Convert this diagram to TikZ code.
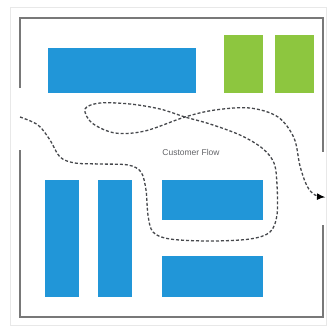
\documentclass[tikz,border=0pt]{standalone}
\usepackage{fontspec}
\setsansfont{Liberation Sans}
\usetikzlibrary{arrows.meta}
\definecolor{shelfblue}{RGB}{33,150,216}
\definecolor{tillgreen}{RGB}{141,198,63}
\definecolor{wallgray}{RGB}{120,120,120}
\definecolor{flowgray}{RGB}{70,72,76}
\tikzset{
  shelf/.style={fill=shelfblue,draw=none,inner sep=0pt},
  till/.style={fill=tillgreen,draw=none,inner sep=0pt},
  wall/.style={wallgray,line width=1.6pt},
  flow/.style={flowgray,line width=1.3pt,dash pattern=on 3pt off 2pt}
}
\begin{document}
\begin{tikzpicture}[x=1pt,y=-1pt]
    \useasboundingbox (0,0) rectangle (328,329);
    % outer frame
    \draw[gray!18,line width=0.8pt] (10,7) rectangle (326,325);
    % walls, with the two doors
    \draw[wall] (20,88) -- (20,18) -- (323,18) -- (323,152);
    \draw[wall] (20,150) -- (20,317) -- (323,317) -- (323,225);
    % shelves
    \node[shelf,minimum width=148pt,minimum height=45pt] (shelftop) at (122,70.5) {};
    \node[shelf,minimum width=34pt,minimum height=117pt] (aisleA) at (62,238.5) {};
    \node[shelf,minimum width=34pt,minimum height=117pt] (aisleB) at (115,238.5) {};
    \node[shelf,minimum width=101pt,minimum height=40pt] (shelfmid) at (212.5,200) {};
    \node[shelf,minimum width=101pt,minimum height=41pt] (shelflow) at (212.5,276.5) {};
    % checkouts
    \foreach \x/\n in {243.5/tillA, 294/tillB}{
      \node[till,minimum width=39pt,minimum height=58pt] (\n) at (\x,64) {};}
    % the flow
    \coordinate (entry) at (20,117);
    \coordinate (exit) at (325,197);
    \draw[flow,-{Latex[length=8pt,width=7pt,black]}] plot[smooth,tension=0.55] coordinates {
      (entry) (38,125) (50,140) (60,157) (75,163) (100,164) (128,165)
      (141,172) (146,190) (148,215) (153,232) (170,239) (210,241) (250,239)
      (270,232) (277,215) (277,185) (274,163) (262,148) (240,135) (210,124)
      (185,117) (160,109) (130,104) (100,103) (85,109) (92,123) (115,133)
      (145,131) (185,117) (215,110) (250,108) (278,117) (294,138) (300,166)
      (307,186) (315,195) (exit)};
    \node[font=\sffamily\fontsize{8.5}{10}\selectfont,text=flowgray!85] (flowlabel) at (191,152) {Customer Flow};
  \end{tikzpicture}
\end{document}
